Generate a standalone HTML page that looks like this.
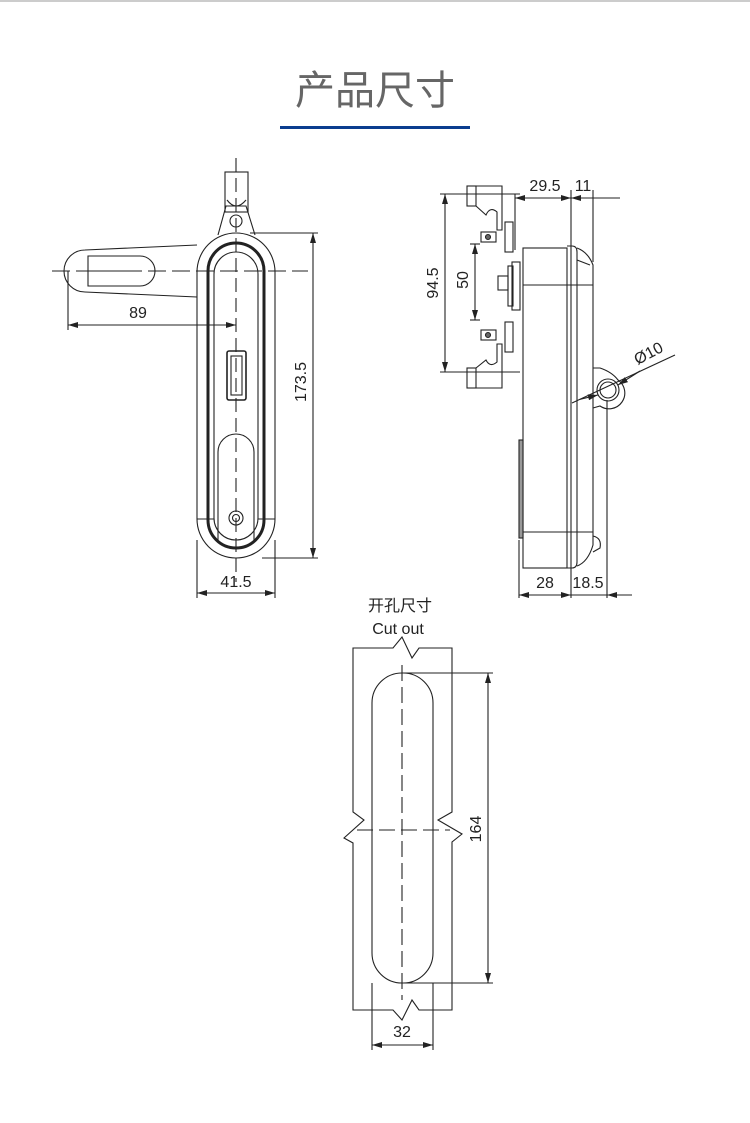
<!DOCTYPE html>
<html><head><meta charset="utf-8"><style>
body{margin:0;background:#fff;width:750px;height:1123px;overflow:hidden}
svg{display:block}
text{font-family:"Liberation Sans","Noto Sans CJK SC",sans-serif;fill:#222}
</style></head><body>
<svg width="750" height="1123" viewBox="0 0 750 1123" xmlns="http://www.w3.org/2000/svg">
<defs>
<marker id="a" viewBox="0 0 10 6" refX="10" refY="3" markerWidth="10" markerHeight="6" orient="auto-start-reverse" markerUnits="userSpaceOnUse"><path d="M0,0L10,3L0,6z" fill="#222"/></marker>
</defs>
<line x1="0" y1="1" x2="750" y2="1" stroke="#ccc" stroke-width="2"/>
<text x="375" y="104" font-size="40" text-anchor="middle" style="fill:#666">产品尺寸</text>
<rect x="280" y="126" width="190" height="3" fill="#0a3d8f"/>

<g fill="none" stroke="#222" stroke-width="1.1">
<line x1="236" y1="158" x2="236" y2="582" stroke-dasharray="14,6"/>
<line x1="52" y1="271" x2="308" y2="271" stroke-dasharray="18,6"/>
<rect x="225" y="172" width="23" height="40"/>
<path d="M227,200 Q236,212 246,200"/>
<path d="M218,235 L226,206 L246,206 L255,235"/>
<circle cx="236" cy="221" r="6"/>
<path d="M197,245 L85,250 A21,21 0 0 0 85,292 L197,297"/>
<path d="M88,256 L140,256 A15,15 0 0 1 140,286 L88,286 Z"/>
<line x1="88" y1="271" x2="140" y2="271"/>
<rect x="197" y="233" width="78" height="325" rx="39"/>
<rect x="208" y="243" width="56" height="305" rx="28" stroke-width="3"/>
<rect x="214" y="252" width="44" height="288" rx="22"/>
<rect x="227" y="351" width="19" height="49" rx="2" stroke-width="1.6"/>
<rect x="231" y="356" width="11" height="39"/>
<path d="M218,540 L218,452 A18,18 0 0 1 254,452 L254,540"/>
<circle cx="236" cy="518" r="7"/><circle cx="236" cy="518" r="3.5"/>
<line x1="197" y1="519" x2="214" y2="519"/><line x1="258" y1="519" x2="275" y2="519"/>
<line x1="68" y1="271" x2="68" y2="330"/>
<line x1="68" y1="325" x2="236" y2="325" marker-start="url(#a)" marker-end="url(#a)"/>
<line x1="250" y1="233" x2="318" y2="233"/><line x1="262" y1="558" x2="318" y2="558"/>
<line x1="313" y1="233" x2="313" y2="558" marker-start="url(#a)" marker-end="url(#a)"/>
<line x1="197" y1="540" x2="197" y2="598"/><line x1="275" y1="540" x2="275" y2="598"/>
<line x1="197" y1="593" x2="275" y2="593" marker-start="url(#a)" marker-end="url(#a)"/>

<rect x="523" y="248" width="44" height="320"/>
<path d="M567,246 L572,246 Q577,246 577,252 L577,562 Q577,568 572,568 L567,568"/>
<line x1="571" y1="246" x2="571" y2="568"/>
<path d="M577,248 Q588,252 593,265 L593,545 Q588,562 577,566"/>
<path d="M577,260 L590,265"/>
<line x1="523" y1="285" x2="593" y2="285"/><line x1="523" y1="532" x2="593" y2="532"/>
<rect x="519" y="440" width="4" height="98" fill="#999"/>
<path d="M593,536 Q602,538 600,548 L593,552"/>
<rect x="467" y="186" width="9" height="20"/><path d="M476,186 L502,186 L502,230 L497,230 L497,212 Q490,206 486,215 L476,206"/>
<rect x="467" y="368" width="9" height="20"/><path d="M476,388 L502,388 L502,344 L497,344 L497,362 Q490,368 486,360 L476,368"/>
<rect x="481" y="232" width="15" height="10"/><circle cx="488" cy="237" r="2.5" fill="#666"/>
<rect x="481" y="330" width="15" height="10"/><circle cx="488" cy="335" r="2.5" fill="#666"/>
<rect x="505" y="222" width="8" height="30"/><rect x="505" y="322" width="8" height="30"/>
<rect x="512" y="262" width="8" height="48"/><rect x="498" y="276" width="10" height="14"/>
<rect x="508" y="266" width="5" height="40"/>
<line x1="440" y1="194" x2="520" y2="194"/><line x1="440" y1="372" x2="520" y2="372"/>
<line x1="445" y1="194" x2="445" y2="372" marker-start="url(#a)" marker-end="url(#a)"/>
<line x1="470" y1="244" x2="480" y2="244"/><line x1="470" y1="320" x2="480" y2="320"/>
<line x1="475" y1="244" x2="475" y2="320" marker-start="url(#a)" marker-end="url(#a)"/>
<line x1="515" y1="194" x2="515" y2="250"/><line x1="571" y1="190" x2="571" y2="246"/><line x1="593" y1="190" x2="593" y2="262"/>
<line x1="515" y1="198" x2="571" y2="198" marker-start="url(#a)" marker-end="url(#a)"/>
<line x1="593" y1="198" x2="620" y2="198"/><line x1="571" y1="198" x2="593" y2="198" marker-start="url(#a)"/>
<line x1="519" y1="540" x2="519" y2="598"/><line x1="571" y1="568" x2="571" y2="598"/><line x1="607" y1="400" x2="607" y2="598"/>
<line x1="519" y1="595" x2="571" y2="595" marker-start="url(#a)" marker-end="url(#a)"/>
<line x1="571" y1="595" x2="632" y2="595"/><line x1="607" y1="595" x2="632" y2="595" marker-start="url(#a)"/>
<path d="M593,368 L600,368 Q612,372 618,380 A13,13 0 0 1 600,406 L593,408"/>
<circle cx="608" cy="390" r="11"/><circle cx="608" cy="390" r="8"/>
<line x1="572" y1="403" x2="675" y2="355"/>
<line x1="580" y1="399.3" x2="598" y2="395" marker-end="url(#a)"/>
<line x1="640" y1="371" x2="618" y2="385" marker-end="url(#a)"/>

<path d="M353,648 L393,648 L402,637 L412,658 L419,648 L452,648 L452,812 L438,820 L462,834 L452,842 L452,1010 L419,1010 L412,1000 L402,1020 L393,1010 L353,1010 L353,843 L344,838 L364,820 L353,812 Z"/>
<rect x="372" y="673" width="61" height="310" rx="30"/>
<line x1="402" y1="665" x2="402" y2="1000" stroke-dasharray="16,6"/>
<line x1="357" y1="830" x2="450" y2="830" stroke-dasharray="16,6"/>
<line x1="402" y1="673" x2="493" y2="673"/><line x1="402" y1="983" x2="493" y2="983"/>
<line x1="488" y1="673" x2="488" y2="983" marker-start="url(#a)" marker-end="url(#a)"/>
<line x1="372" y1="983" x2="372" y2="1050"/><line x1="433" y1="983" x2="433" y2="1050"/>
<line x1="372" y1="1045" x2="433" y2="1045" marker-start="url(#a)" marker-end="url(#a)"/>
</g>

<g font-size="16">
<text x="138" y="318" text-anchor="middle">89</text>
<text x="236" y="587" text-anchor="middle">41.5</text>
<text transform="translate(306,382) rotate(-90)" text-anchor="middle">173.5</text>
<text x="545" y="191" text-anchor="middle">29.5</text>
<text x="583" y="191" text-anchor="middle">11</text>
<text transform="translate(438,283) rotate(-90)" text-anchor="middle">94.5</text>
<text transform="translate(468,280) rotate(-90)" text-anchor="middle">50</text>
<text x="545" y="588" text-anchor="middle">28</text>
<text x="588" y="588" text-anchor="middle">18.5</text>
<text transform="translate(651,358) rotate(-28)" text-anchor="middle">Ø10</text>
<text transform="translate(481,829) rotate(-90)" text-anchor="middle">164</text>
<text x="402" y="1037" text-anchor="middle">32</text>
</g>
<text x="400" y="611" font-size="16" text-anchor="middle">开孔尺寸</text>
<text x="398" y="634" font-size="16" text-anchor="middle">Cut out</text>
</svg>
</body></html>
